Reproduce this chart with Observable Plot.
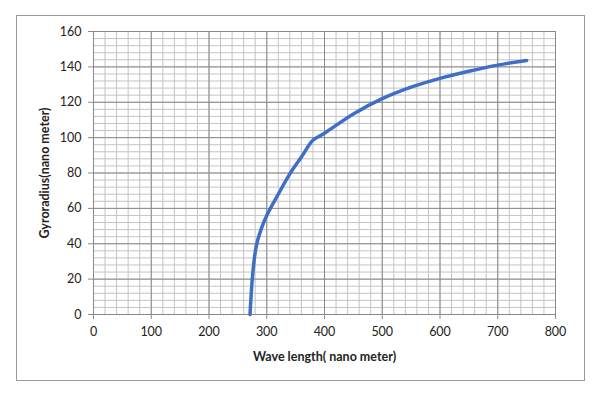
<!DOCTYPE html>
<html>
<head>
<meta charset="utf-8">
<script src="https://cdn.jsdelivr.net/npm/d3@7"></script>
<script src="https://cdn.jsdelivr.net/npm/@observablehq/plot@0.6"></script>
<style>
  html, body { margin: 0; padding: 0; background: #fff; }
  #wrap { position: relative; width: 600px; height: 397px; }
  #border { position: absolute; left: 16px; top: 15px; width: 569px; height: 366px; border: 1px solid #9a9a9a; box-sizing: border-box; pointer-events: none; }
</style>
</head>
<body>
<div id="wrap"><div id="border"></div></div>
<script>
const wavelength = [271, 276, 282, 290, 300, 320, 340, 360, 380, 400, 450, 500, 550, 600, 650, 700, 750];
const gyroradius = [0, 24, 39, 48, 56, 68, 79.5, 89, 98.5, 102.5, 113.4, 122, 128.5, 133.5, 137.5, 141, 143.6];
const xTicks = [0, 100, 200, 300, 400, 500, 600, 700, 800];
const yTicks = [0, 20, 40, 60, 80, 100, 120, 140, 160];
const xMinor = d3.range(0, 801, 20);
const yMinor = d3.range(0, 161, 4);

const data = wavelength.map((w, i) => ({w, g: gyroradius[i]}));

const chart = Plot.plot({
  width: 600,
  height: 397,
  marginLeft: 93,
  marginRight: 45,
  marginTop: 31,
  marginBottom: 83,
  style: {fontFamily: "Lato, 'Open Sans', sans-serif", fontSize: "12.5px", color: "#222", background: "transparent"},
  x: {domain: [0, 800], label: null},
  y: {domain: [0, 160], label: null},
  marks: [
    Plot.ruleX(xMinor, {stroke: "#c4c4c4", strokeWidth: 1}),
    Plot.ruleY(yMinor, {stroke: "#c4c4c4", strokeWidth: 1}),
    Plot.ruleX(xTicks, {stroke: "#8a8a8a", strokeWidth: 1}),
    Plot.ruleY(yTicks, {stroke: "#8a8a8a", strokeWidth: 1}),
    Plot.axisX({ticks: xTicks, tickSize: 5, tickPadding: 8, stroke: "#8a8a8a", label: null}),
    Plot.axisY({ticks: yTicks, tickSize: 5, tickPadding: 7, stroke: "#8a8a8a", label: null}),
    Plot.line(data, {x: "w", y: "g", stroke: "#3f6fc4", strokeWidth: 3.5, curve: "catmull-rom"}),
    Plot.text(["Wave length( nano meter)"], {frameAnchor: "bottom", dy: 46, fontWeight: "bold", fontSize: 12.5, fill: "#222", text: d => d}),
    Plot.text(["Gyroradius(nano meter)"], {frameAnchor: "left", textAnchor: "middle", dx: -49, rotate: -90, fontWeight: "bold", fontSize: 12.5, fill: "#222", text: d => d})
  ]
});
document.getElementById("wrap").appendChild(chart);
chart.style.position = "absolute";
chart.style.left = "0";
chart.style.top = "0";
</script>
</body>
</html>
